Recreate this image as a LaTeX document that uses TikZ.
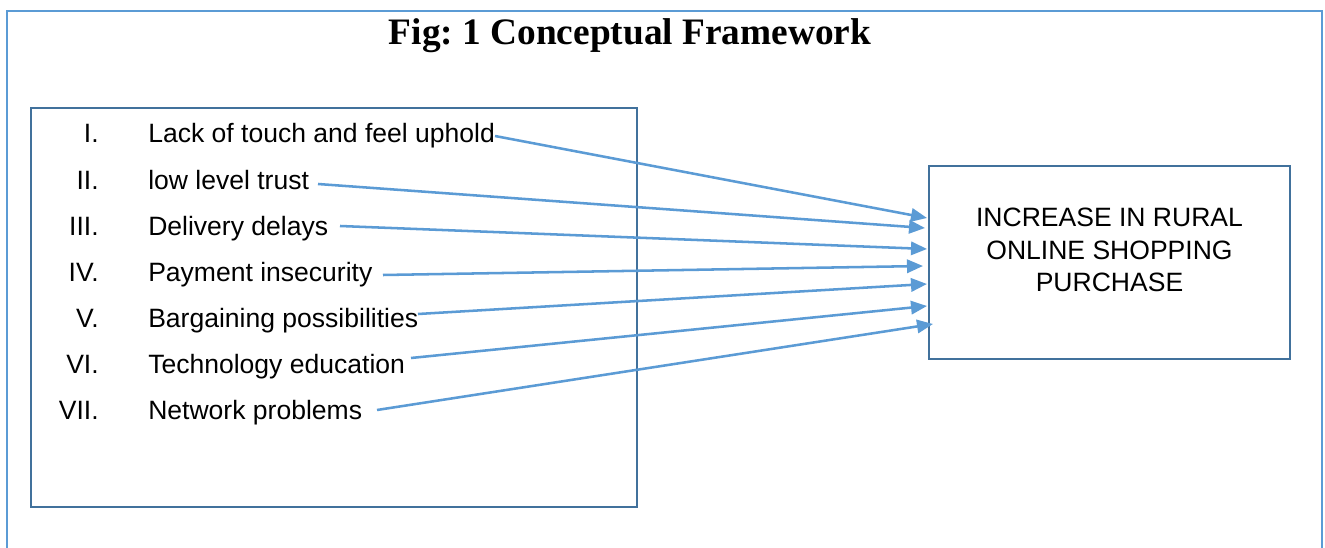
\documentclass[tikz,border=0pt]{standalone}
\usepackage{fontspec}
\setmainfont{Liberation Serif}
\newfontfamily\arialfont{Liberation Sans}
\usetikzlibrary{arrows.meta}
\definecolor{frameblue}{RGB}{91,155,213}
\definecolor{boxblue}{RGB}{65,113,156}
\frenchspacing
\begin{document}
\begin{tikzpicture}[x=0.75pt,y=-0.75pt,
  item/.style={font=\arialfont\fontsize{19.9pt}{24.4pt}\selectfont, inner sep=0pt},
  num/.style={item, anchor=base east},
  lab/.style={item, anchor=base west},
  boxstyle/.style={draw=boxblue, line width=2.2pt, inner sep=0pt},
  link/.style={draw=frameblue, line width=1.9pt, -{Triangle[length=12pt,width=10pt]}}]
\useasboundingbox (0,0) rectangle (1325,548);
\fill[white] (0,0) rectangle (1325,548);
\draw[frameblue, line width=2pt] (7,548) -- (7,11) -- (1322,11) -- (1322,548);
\node[font=\bfseries\fontsize{28pt}{30pt}\selectfont, anchor=base, inner sep=0pt] (title) at (630,45) {Fig: 1 Conceptual Framework};
\node[boxstyle, minimum width=606*0.75pt, minimum height=399*0.75pt] (lb) at (334,307.5) {};
\node[boxstyle, minimum width=361*0.75pt, minimum height=193*0.75pt] (rb) at (1109.5,262.5) {};
\node[item, align=center, anchor=north] (rt) at (1109.5,208) {INCREASE IN RURAL\\ONLINE SHOPPING\\PURCHASE};
\node[num] (n1) at (99,143) {I.};
\node[lab] (t1) at (148,143) {Lack of touch and feel uphold};
\node[num] (n2) at (99,190) {II.};
\node[lab] (t2) at (148,190) {low level trust};
\node[num] (n3) at (99,236) {III.};
\node[lab] (t3) at (148,236) {Delivery delays};
\node[num] (n4) at (99,282) {IV.};
\node[lab] (t4) at (148,282) {Payment insecurity};
\node[num] (n5) at (99,328) {V.};
\node[lab] (t5) at (148,328) {Bargaining possibilities};
\node[num] (n6) at (99,374) {VI.};
\node[lab] (t6) at (148,374) {Technology education};
\node[num] (n7) at (99,420) {VII.};
\node[lab] (t7) at (148,420) {Network problems};
\coordinate (s1) at (495,136); \coordinate (e1) at (927,218);
\coordinate (s2) at (318,184); \coordinate (e2) at (925,228);
\coordinate (s3) at (340,226); \coordinate (e3) at (927,249);
\coordinate (s4) at (383,275); \coordinate (e4) at (923,266);
\coordinate (s5) at (418,314); \coordinate (e5) at (927,284);
\coordinate (s6) at (411,358); \coordinate (e6) at (927,306);
\coordinate (s7) at (377,410); \coordinate (e7) at (933,324);
\foreach \k in {1,...,7}{\draw[link] (s\k) -- (e\k);}
\end{tikzpicture}
\end{document}
